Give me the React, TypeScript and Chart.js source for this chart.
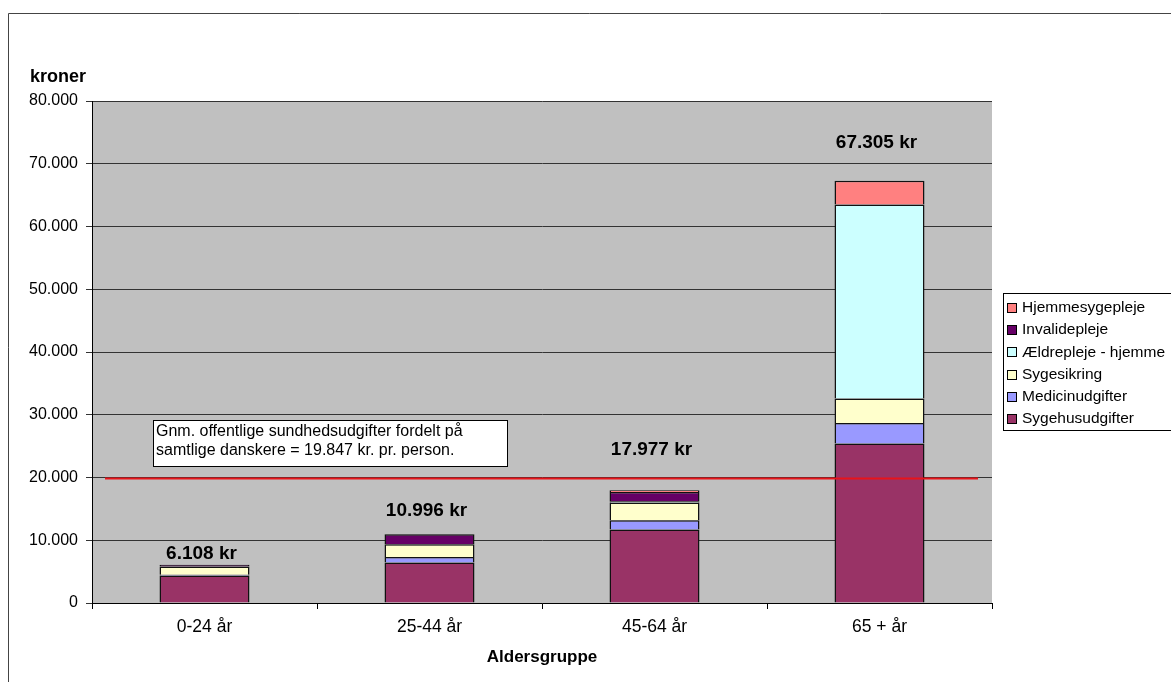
import React, { useEffect, useRef } from "react";
import { Chart, registerables } from "chart.js";

Chart.register(...registerables);

const categories = ["0-24 år", "25-44 år", "45-64 år", "65 + år"];
const sygehusudgifter = [4400, 6450, 11700, 25400];
const medicinudgifter = [100, 900, 1500, 3300];
const sygesikring = [1300, 2000, 2800, 3900];
const aeldrepleje = [0, 50, 200, 30900];
const invalidepleje = [300, 1550, 1500, 0];
const hjemmesygepleje = [8, 46, 277, 3805];
const averagePerPerson = 19847;
const yMax = 80000;
const yStep = 10000;
const annotationLines = [
  "Gnm. offentlige sundhedsudgifter fordelt på",
  "samtlige danskere = 19.847 kr. pr. person.",
];
const yAxisTitle = "kroner";
const xAxisTitle = "Aldersgruppe";

const FONT = '"Liberation Sans", Arial, sans-serif';
const totalLabelLift = [11, 23, 40, 38];

function fmt(n: number): string {
  const s = Math.round(n).toString();
  return s.replace(/\B(?=(\d{3})+(?!\d))/g, ".");
}

const decorPlugin = {
  id: "decor",
  beforeDraw(chart: any) {
    const { ctx, chartArea: a } = chart;
    ctx.save();
    ctx.fillStyle = "#ffffff";
    ctx.fillRect(0, 0, chart.width, chart.height);
    ctx.fillStyle = "#C0C0C0";
    ctx.fillRect(a.left, a.top, a.right - a.left, a.bottom - a.top);
    // outer frame
    ctx.strokeStyle = "#444";
    ctx.lineWidth = 1;
    ctx.beginPath();
    ctx.moveTo(0.5, chart.height);
    ctx.lineTo(0.5, 5.5);
    ctx.lineTo(chart.width, 5.5);
    ctx.stroke();
    ctx.restore();
  },
  afterDatasetsDraw(chart: any) {
    const { ctx, chartArea: a } = chart;
    const y = chart.scales.y;
    ctx.save();
    // average line
    const ya = y.getPixelForValue(averagePerPerson);
    ctx.strokeStyle = "#E8141A";
    ctx.lineWidth = 2;
    ctx.beginPath();
    ctx.moveTo(a.left + 13, ya);
    ctx.lineTo(a.right - 14, ya);
    ctx.stroke();

    // annotation box
    ctx.fillStyle = "#ffffff";
    ctx.fillRect(145.5, 412.5, 354, 46);
    ctx.strokeStyle = "#000";
    ctx.lineWidth = 1;
    ctx.strokeRect(145.5, 412.5, 354, 46);
    ctx.fillStyle = "#000";
    ctx.font = `16px ${FONT}`;
    ctx.textAlign = "left";
    ctx.textBaseline = "middle";
    annotationLines.forEach((t, i) => ctx.fillText(t, 148, 424 + i * 19));

    // totals
    const meta0 = chart.getDatasetMeta(0);
    ctx.font = `bold 19px ${FONT}`;
    ctx.textAlign = "center";
    ctx.textBaseline = "middle";
    categories.forEach((_, i) => {
      let total = 0;
      chart.data.datasets.forEach((d: any) => (total += d.data[i]));
      const x = meta0.data[i].x - 3;
      const top = y.getPixelForValue(total);
      ctx.fillText(`${fmt(total)} kr`, x, top - totalLabelLift[i]);
    });

    // axis titles
    ctx.font = `bold 18px ${FONT}`;
    ctx.textAlign = "left";
    ctx.fillText(yAxisTitle, 22, 69);
    ctx.font = `bold 17px ${FONT}`;
    ctx.textAlign = "center";
    ctx.fillText(xAxisTitle, (a.left + a.right) / 2, 649);

    // legend
    const lx = 995.5;
    const ly = 285.5;
    ctx.fillStyle = "#fff";
    ctx.fillRect(lx, ly, chart.width - lx + 2, 137);
    ctx.strokeStyle = "#000";
    ctx.strokeRect(lx, ly, chart.width - lx + 2, 137);
    const ds = [...chart.data.datasets].reverse();
    ctx.font = `15.5px ${FONT}`;
    ctx.textAlign = "left";
    ctx.textBaseline = "middle";
    ds.forEach((d: any, i: number) => {
      const cy = 300 + i * 22.2;
      ctx.fillStyle = d.backgroundColor;
      ctx.fillRect(999.5, Math.round(cy) - 4.5, 9, 9);
      ctx.strokeStyle = "#000";
      ctx.strokeRect(999.5, Math.round(cy) - 4.5, 9, 9);
      ctx.fillStyle = "#000";
      ctx.fillText(d.label, 1014, cy);
    });
    ctx.restore();
  },
};

export default function App() {
  const ref = useRef<HTMLCanvasElement | null>(null);
  useEffect(() => {
    if (!ref.current) return;
    const mk = (label: string, data: number[], color: string) => ({
      label,
      data,
      backgroundColor: color,
      borderColor: "#111",
      borderWidth: 1.5,
      barPercentage: 0.4,
      categoryPercentage: 1,
    });
    const chart = new Chart(ref.current, {
      type: "bar",
      data: {
        labels: categories,
        datasets: [
          mk("Sygehusudgifter", sygehusudgifter, "#993366"),
          mk("Medicinudgifter", medicinudgifter, "#9999FF"),
          mk("Sygesikring", sygesikring, "#FFFFCC"),
          mk("Ældrepleje - hjemme", aeldrepleje, "#CCFFFF"),
          mk("Invalidepleje", invalidepleje, "#660066"),
          mk("Hjemmesygepleje", hjemmesygepleje, "#FF8080"),
        ],
      },
      options: {
        responsive: false,
        animation: false,
        devicePixelRatio: 1,
        layout: { padding: { left: 0, right: 179, top: 93, bottom: 0 } },
        plugins: { legend: { display: false }, tooltip: { enabled: false } },
        scales: {
          x: {
            stacked: true,
            offset: true,
            grid: {
              offset: true,
              drawOnChartArea: false,
              drawTicks: true,
              tickLength: 6,
              color: "#000",
            },
            border: { color: "#000", width: 1 },
            ticks: { color: "#000", font: { size: 17.5, family: FONT }, padding: 8 },
            afterFit(s: any) {
              s.height = 79;
            },
          },
          y: {
            stacked: true,
            min: 0,
            max: yMax,
            ticks: {
              stepSize: yStep,
              color: "#000",
              font: { size: 16, family: FONT },
              padding: 8,
              callback: (v: any) => fmt(Number(v)),
            },
            grid: { color: "#333", tickLength: 6 },
            border: { color: "#000", width: 1 },
            afterFit(s: any) {
              s.width = 84;
            },
          },
        },
      },
      plugins: [decorPlugin],
    } as any);
    return () => chart.destroy();
  }, []);
  return (
    <div style={{ position: "fixed", left: 8, top: 8, width: 1163, height: 674 }}>
      <canvas ref={ref} width={1163} height={674} style={{ display: "block" }} />
    </div>
  );
}
